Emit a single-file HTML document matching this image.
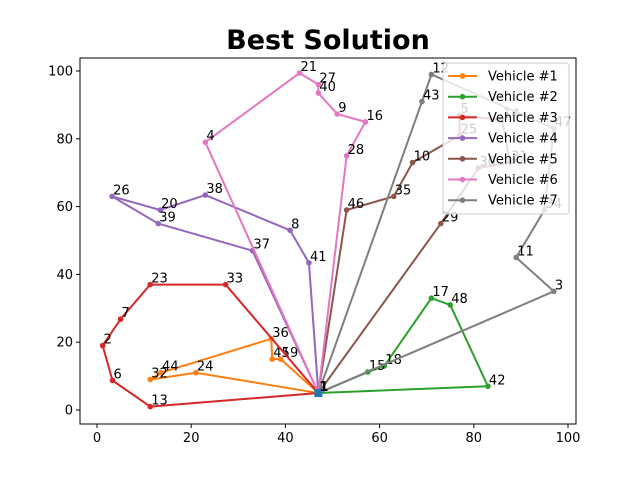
<!DOCTYPE html>
<html><head><meta charset="utf-8"><style>
html,body{margin:0;padding:0;background:#fff;}
svg text{font-family:"DejaVu Sans","Liberation Sans",sans-serif;}
</style></head><body>
<svg id="chart" width="640" height="476" viewBox="0 0 640 476" xmlns="http://www.w3.org/2000/svg">
<rect x="0" y="0" width="640" height="476" fill="#fff"/>
<text x="328" y="49" text-anchor="middle" font-size="27" font-weight="bold" fill="#000">Best Solution</text>
<g id="plot"></g>
<g id="axes"></g>
<g id="legend"></g>
</svg>
<script>
const xTicks = [0, 20, 40, 60, 80, 100];
const yTicks = [0, 20, 40, 60, 80, 100];
const vehicleNames = ["Vehicle #1","Vehicle #2","Vehicle #3","Vehicle #4","Vehicle #5","Vehicle #6","Vehicle #7"];
const vehicleColors = ["#ff7f0e","#2ca02c","#d62728","#9467bd","#8c564b","#e377c2","#7f7f7f"];
const depot = {id:1, x:47, y:5};
const route1 = [[24,21,11],[32,11.3,9],[44,13.6,11],[36,37,21],[45,37.2,15],[19,39,15]];
const route2 = [[15,57.5,11.2],[18,61,13],[17,71,33],[48,75,31],[42,83,7]];
const route3 = [[13,11.3,1],[6,3.3,8.7],[2,1.2,19],[7,5,26.8],[23,11.3,37],[33,27.3,37]];
const route4 = [[41,45,43.4],[8,41,53],[38,23,63.4],[20,13.4,59],[26,3.2,63],[39,13,55],[37,33,47]];
const route5 = [[46,53,59],[35,63,63],[10,67,73],[25,77,81],[5,77,87],[14,86,85.5],[31,87.7,73],[30,81,71.4],[29,73,55]];
const route6 = [[4,23,79],[21,43,99.4],[27,47,96],[40,47,93.5],[9,51,87.3],[16,57,85],[28,53,75]];
const route7 = [[43,69,91],[12,71,99],[47,97,83],[34,95,59],[11,89,45],[3,97,35]];
const routes = [route1,route2,route3,route4,route5,route6,route7];

const L=80,R=576,T=58,B=424;
function sx(v){return 97 + v*4.71;}
function sy(v){return 410 - v*3.39;}
const NS="http://www.w3.org/2000/svg";
function mk(tag,attrs,parent){const e=document.createElementNS(NS,tag);for(const k in attrs)e.setAttribute(k,attrs[k]);parent.appendChild(e);return e;}
const plot=document.getElementById('plot'), axes=document.getElementById('axes'), leg=document.getElementById('legend');

routes.forEach((r,i)=>{
  const pts=[[depot.id,depot.x,depot.y]].concat(r).concat([[depot.id,depot.x,depot.y]]);
  const pl=mk('polyline',{points:pts.map(p=>sx(p[1])+','+sy(p[2])).join(' '),fill:'none',stroke:vehicleColors[i],'stroke-width':2,'stroke-linejoin':'round'},plot);
  
  
  pts.forEach(p=>{
    const c=mk('circle',{cx:sx(p[1]),cy:sy(p[2]),r:2.8,fill:vehicleColors[i]},plot);
    
    
  });
  r.forEach(p=>{
    const t=mk('text',{x:sx(p[1])+1,y:sy(p[2])-2,'font-size':13,fill:'#000'},plot);
    t.textContent=p[0];
    
    
  });
});
const dm=mk('rect',{x:sx(depot.x)-4,y:sy(depot.y)-4,width:8,height:8,fill:'#1f77b4'},plot);


const dl=mk('text',{x:sx(depot.x)+1,y:sy(depot.y)-2,'font-size':13,'font-weight':'bold',fill:'#000'},plot);
dl.textContent=depot.id;



const frame=mk('rect',{x:L,y:T,width:R-L,height:B-T,fill:'none',stroke:'#000','stroke-width':1},axes);


xTicks.forEach(v=>{
  const x=sx(v);
  const tk=mk('line',{x1:x,x2:x,y1:B,y2:B+4,stroke:'#000'},axes);
  
  
  const t=mk('text',{x:x,y:B+18,'font-size':13,'text-anchor':'middle',fill:'#000'},axes);
  t.textContent=v;
  
  
});
yTicks.forEach(v=>{
  const y=sy(v);
  const tk=mk('line',{x1:L-4,x2:L,y1:y,y2:y,stroke:'#000'},axes);
  
  
  const t=mk('text',{x:L-7,y:y+4.5,'font-size':13,'text-anchor':'end',fill:'#000'},axes);
  t.textContent=v;
  
  
});

const lb=mk('rect',{x:443,y:63,width:126,height:151,rx:3,fill:'#fff','fill-opacity':0.8,stroke:'#ccc'},leg);


vehicleNames.forEach((n,i)=>{
  const y=76+i*20.7;
  const ln=mk('line',{x1:448,x2:477,y1:y,y2:y,stroke:vehicleColors[i],'stroke-width':2},leg);
  
  
  const c=mk('circle',{cx:462.5,cy:y,r:2.8,fill:vehicleColors[i]},leg);
  
  
  const t=mk('text',{x:488,y:y+4.5,'font-size':13,fill:'#000'},leg);
  t.textContent=n;
  
  
});
</script>
</body></html>
